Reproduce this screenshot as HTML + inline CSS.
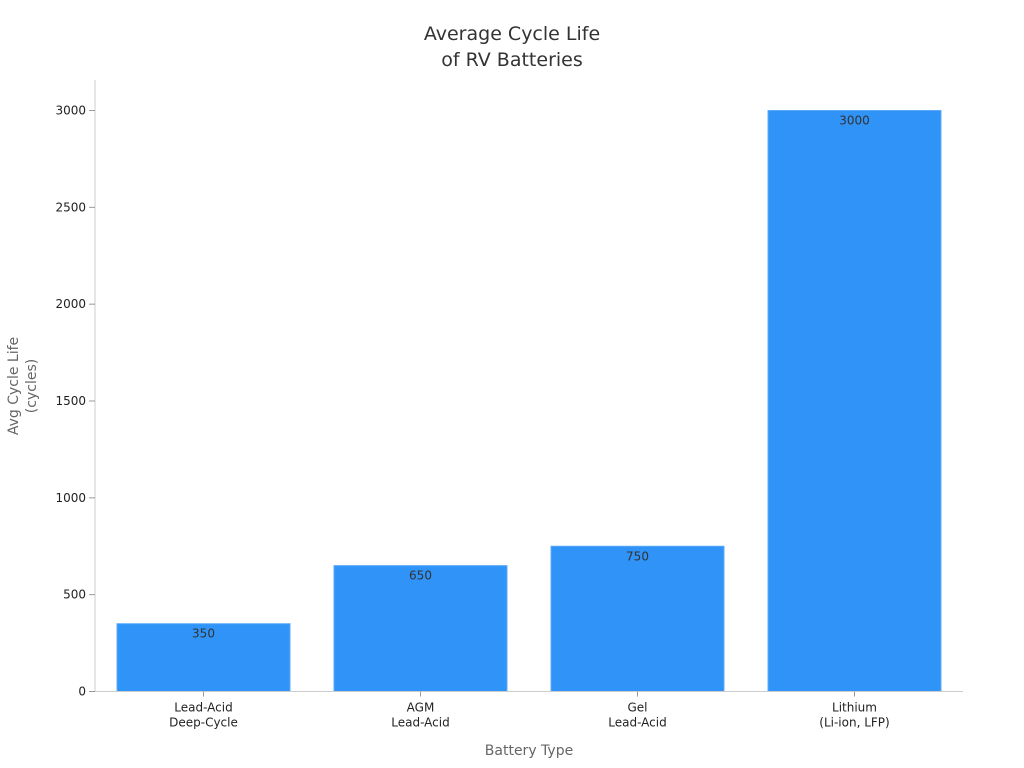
<!DOCTYPE html>
<html><head><meta charset="utf-8">
<style>
body{margin:0;background:#fff;font-family:"DejaVu Sans","Liberation Sans",sans-serif;}
svg{display:block;font-family:"DejaVu Sans","Liberation Sans",sans-serif;}
</style></head>
<body>
<svg id="chart" width="1024" height="768">
<text x="512" y="40" text-anchor="middle" font-size="19" fill="#333"><tspan x="512">Average Cycle Life</tspan><tspan x="512" dy="26">of RV Batteries</tspan></text>
<g id="yaxis"></g>
<g id="bars"></g>
<g id="xaxis"></g>
<text transform="translate(18,386) rotate(-90)" text-anchor="middle" font-size="14" fill="#666"><tspan x="0" dy="0">Avg Cycle Life</tspan><tspan x="0" dy="18">(cycles)</tspan></text>
<text x="529" y="755" text-anchor="middle" font-size="14" fill="#666">Battery Type</text>
</svg>
<script>
const categories=[["Lead-Acid","Deep-Cycle"],["AGM","Lead-Acid"],["Gel","Lead-Acid"],["Lithium","(Li-ion, LFP)"]];
const values=[350,650,750,3000];
const yTicks=[0,500,1000,1500,2000,2500,3000];
const NS="http://www.w3.org/2000/svg";
const x0=95,x1=963,yBase=691.5,yTop=110.5,yMax=3000;
const y=v=>yBase-(v/yMax)*(yBase-yTop);
const band=(x1-x0)/categories.length;
const xc=i=>x0+band*(i+0.5);
function mk(tag,attrs,parent,text){const e=document.createElementNS(NS,tag);for(const k in attrs)e.setAttribute(k,attrs[k]);if(text!=null)e.textContent=text;parent.appendChild(e);return e;}
const ya=document.getElementById('yaxis'),bg=document.getElementById('bars'),xa=document.getElementById('xaxis');
const yl=mk('line',{x1:x0,x2:x0,y1:80,y2:yBase,stroke:'#ccc'},ya);


yTicks.forEach(t=>{
  const l=mk('line',{x1:x0-6,x2:x0,y1:y(t),y2:y(t),stroke:'#999'},ya);
  
  
  const tx=mk('text',{x:x0-9,y:y(t)+4,'text-anchor':'end','font-size':12,fill:'#222'},ya,t);
  
  
});
const xl=mk('line',{x1:x0,x2:x1,y1:yBase,y2:yBase,stroke:'#ccc'},xa);


const bw=band*0.797;
values.forEach((v,i)=>{
  const r=mk('rect',{x:xc(i)-bw/2,y:y(v),width:bw,height:yBase-y(v),fill:'#2f93f8',stroke:'#5aa9f9','stroke-width':1},bg);
  
  
  const lb=mk('text',{x:xc(i),y:y(v)+14,'text-anchor':'middle','font-size':12,fill:'#333'},bg,v);
  
  
  const tk=mk('line',{x1:xc(i),x2:xc(i),y1:yBase,y2:yBase+5,stroke:'#999'},xa);
  
  
  const t=mk('text',{x:xc(i),y:yBase+20,'text-anchor':'middle','font-size':12,fill:'#222'},xa);
  
  
  categories[i].forEach((s,j)=>mk('tspan',{x:xc(i),dy:j?15:0},t,s));
});
</script>
</body></html>
